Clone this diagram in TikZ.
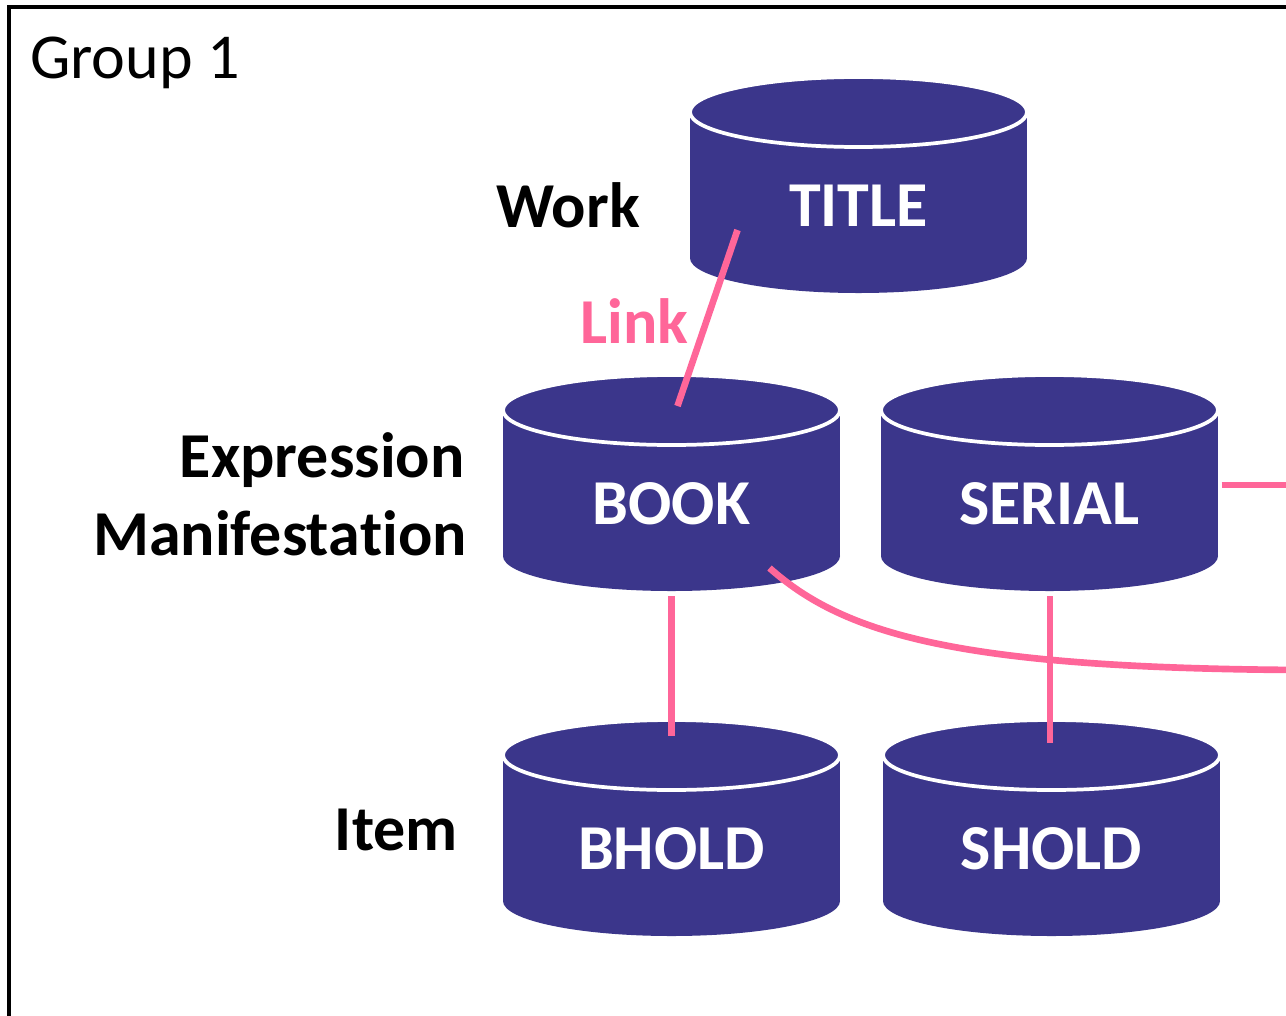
\documentclass[tikz,border=0pt]{standalone}
\usepackage{fontspec}
\setmainfont{Carlito}[Ligatures=NoCommon]
\usepackage{tikz}
\usetikzlibrary{positioning}

\definecolor{dbblue}{RGB}{59,54,139}
\definecolor{linkpink}{RGB}{255,102,153}

% database cylinder: name, x and y of its label, label
\newcommand{\dbcyl}[4]{%
    \fill[dbblue] (#2,#3+52) ellipse [x radius=168.5, y radius=35];
    \fill[dbblue] (#2-168.5,#3-94) rectangle (#2+168.5,#3+52);
    \draw[white, line width=2.8pt, fill=dbblue] (#2,#3-94) ellipse [x radius=168.5, y radius=35];
    \node[dblabel] (#1) at (#2,#3) {#4};
}

\begin{document}
\begin{tikzpicture}[x=0.75pt,y=0.75pt,yscale=-1,xscale=1,
    dblabel/.style={inner sep=0pt, text=white, font=\fontsize{48}{58}\selectfont\bfseries},
    levellabel/.style={inner sep=0pt, font=\fontsize{48}{58}\selectfont\bfseries},
    link/.style={draw=linkpink, line width=5pt}]
    \useasboundingbox (0,0) rectangle (1286,1015);

    %Frame
    \draw[line width=3pt] (9,1030) -- (9,7) -- (1300,7);

    %Shape: Can
    \dbcyl{title}{858.5}{206}{TITLE}
    \dbcyl{book}{671.5}{504}{BOOK}
    \dbcyl{serial}{1049.5}{504}{SERIAL}
    \dbcyl{bhold}{671.5}{849}{BHOLD}
    \dbcyl{shold}{1051.5}{849}{SHOLD}

    % Text Node
    \node[anchor=base west, inner sep=0pt, font=\fontsize{48}{58}\selectfont] (group) at (30,78) {Group 1};
    % Text Node
    \node[levellabel, anchor=base east] (work) at (640,227) {Work};
    % Text Node
    \node[levellabel, anchor=base east] (expr) at (465,477) {Expression};
    % Text Node
    \node[levellabel, anchor=base east] (manif) at (467,555) {Manifesta\kern0pt tion};
    % Text Node
    \node[levellabel, anchor=base east] (item) at (458,850) {Item};
    % Text Node
    \node[levellabel, anchor=base west, text=linkpink] (linklabel) at (580,343) {Link};

    %Free ends
    \coordinate (eastA) at (1300,485);
    \coordinate (eastB) at (1300,670);

    %Straight Lines
    \draw[link] ([shift={(-121,24)}]title.center) -- ([shift={(6,-98)}]book.center);
    \draw[link] ([shift={(0,92)}]book.center) -- ([shift={(0,-113)}]bhold.center);
    \draw[link] ([shift={(0.5,92)}]serial.center) -- ([shift={(-1.5,-106)}]shold.center);
    \draw[link] ([shift={(172,-19)}]serial.center) -- (eastA);
    %Curve Lines
    \draw[link] ([shift={(98,64)}]book.center) .. controls (845,635) and (960,668) .. (eastB);
\end{tikzpicture}
\end{document}
